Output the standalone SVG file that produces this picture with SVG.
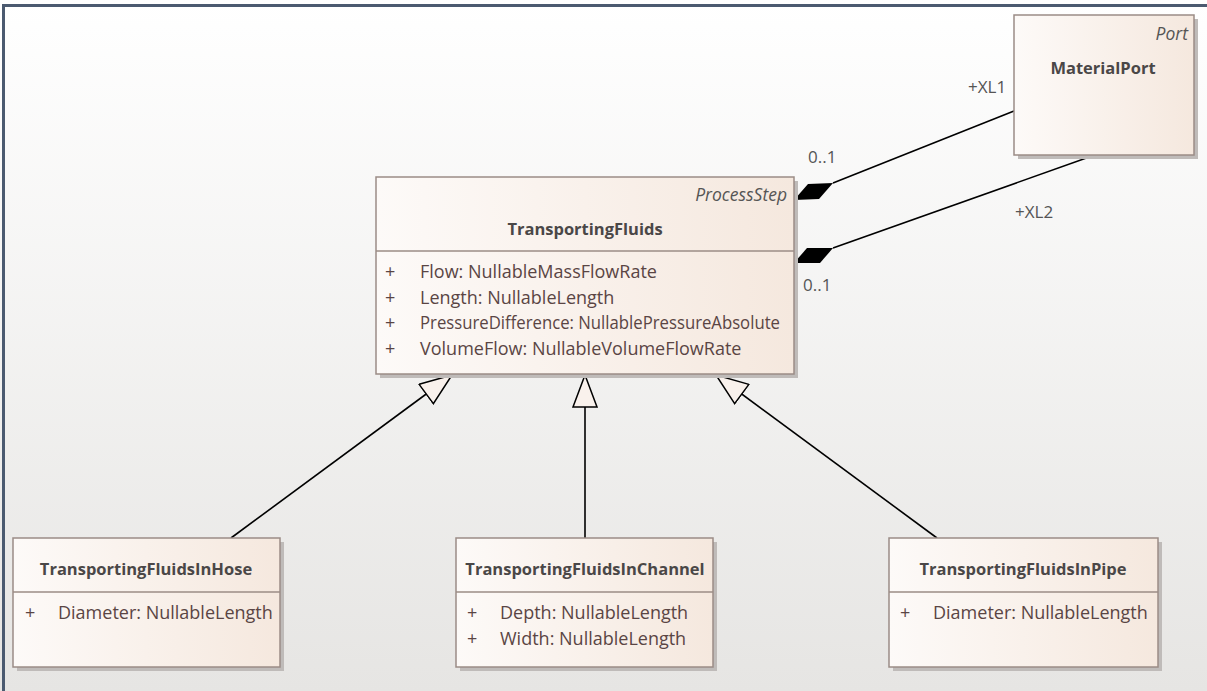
<svg xmlns="http://www.w3.org/2000/svg" width="1207" height="691" viewBox="0 0 1207 691">
<defs>
<linearGradient id="bg" x1="0" y1="0" x2="0" y2="1">
<stop offset="0" stop-color="#ffffff"/>
<stop offset="1" stop-color="#e6e5e3"/>
</linearGradient>
<linearGradient id="box" x1="0" y1="0" x2="1" y2="0">
<stop offset="0" stop-color="#fdfaf8"/>
<stop offset="1" stop-color="#f5e8de"/>
</linearGradient>
<marker id="gen" viewBox="0 0 34 26" refX="33" refY="13" markerWidth="34" markerHeight="26" markerUnits="userSpaceOnUse" orient="auto">
<path d="M1,1 L33,13 L1,25 Z" fill="#f9f1ec" stroke="#000" stroke-width="1.5"/>
</marker>
</defs>
<style>
.frame{fill:none;stroke:#4b5a70;stroke-width:3}
.node rect.b{fill:url(#box);stroke:#9b8c86;stroke-width:1.5}
.node rect.s{fill:#bfbbb9}
.sep{stroke:#9b8c86;stroke-width:1.5}
.title{font-family:"Open Sans","Noto Sans",sans-serif;font-weight:bold;font-size:16.5px;fill:#4a4747;text-anchor:middle}
.stereo{font-family:"Open Sans","Noto Sans",sans-serif;font-style:italic;font-size:17.5px;fill:#555;text-anchor:end}
.attr{font-family:"Open Sans","Noto Sans",sans-serif;font-size:18px;fill:#5a4544}
.lbl{font-family:"Open Sans","Noto Sans",sans-serif;font-size:17px;fill:#555}
.conn line{stroke:#000;stroke-width:1.6}
.dia{fill:#000}
</style>
<rect x="0" y="0" width="1207" height="691" fill="url(#bg)"/>
<path class="frame" d="M3.5,691 L3.5,5.5 L1207,5.5"/>

<g id="connectors" class="conn">
<line x1="1014" y1="111" x2="833" y2="183"/>
<polygon class="dia" points="794,200 808,184 833,183 819,199"/>
<line x1="1092" y1="156" x2="833" y2="248"/>
<polygon class="dia" points="794,263 807,248 833,248 820,263"/>
<line x1="231" y1="538" x2="452" y2="375" marker-end="url(#gen)"/>
<line x1="585" y1="538" x2="585" y2="375" marker-end="url(#gen)"/>
<line x1="937" y1="538" x2="716" y2="375" marker-end="url(#gen)"/>
<text class="lbl" x="968" y="93">+XL1</text>
<text class="lbl" x="808" y="163">0..1</text>
<text class="lbl" x="1015" y="218">+XL2</text>
<text class="lbl" x="803" y="291">0..1</text>
</g>

<g id="TransportingFluids" class="node">
<rect class="s" x="380" y="181" width="418" height="197"/>
<rect class="b" x="376" y="177" width="418" height="197"/>
<line class="sep" x1="376" y1="251" x2="794" y2="251"/>
<text class="stereo" x="787" y="201">ProcessStep</text>
<text class="title" x="585" y="235">TransportingFluids</text>
<text class="attr" x="385" y="278">+</text><text class="attr" x="420" y="278">Flow: NullableMassFlowRate</text>
<text class="attr" x="385" y="304">+</text><text class="attr" x="420" y="304">Length: NullableLength</text>
<text class="attr" x="385" y="329">+</text><text class="attr" x="420" y="329" textLength="360" lengthAdjust="spacingAndGlyphs">PressureDifference: NullablePressureAbsolute</text>
<text class="attr" x="385" y="355">+</text><text class="attr" x="420" y="355">VolumeFlow: NullableVolumeFlowRate</text>
</g>

<g id="MaterialPort" class="node">
<rect class="s" x="1018" y="19" width="180" height="140"/>
<rect class="b" x="1014" y="15" width="180" height="140"/>
<text class="stereo" x="1188" y="40">Port</text>
<text class="title" x="1103" y="74">MaterialPort</text>
</g>

<g id="TransportingFluidsInHose" class="node">
<rect class="s" x="17" y="542" width="267" height="129"/>
<rect class="b" x="13" y="538" width="267" height="129"/>
<line class="sep" x1="13" y1="592" x2="280" y2="592"/>
<text class="title" x="146" y="575">TransportingFluidsInHose</text>
<text class="attr" x="25" y="619">+</text><text class="attr" x="58" y="619">Diameter: NullableLength</text>
</g>

<g id="TransportingFluidsInChannel" class="node">
<rect class="s" x="460" y="542" width="257" height="129"/>
<rect class="b" x="456" y="538" width="257" height="129"/>
<line class="sep" x1="456" y1="592" x2="713" y2="592"/>
<text class="title" x="585" y="575">TransportingFluidsInChannel</text>
<text class="attr" x="467" y="619">+</text><text class="attr" x="500" y="619">Depth: NullableLength</text>
<text class="attr" x="467" y="645">+</text><text class="attr" x="500" y="645">Width: NullableLength</text>
</g>

<g id="TransportingFluidsInPipe" class="node">
<rect class="s" x="893" y="542" width="269" height="129"/>
<rect class="b" x="889" y="538" width="269" height="129"/>
<line class="sep" x1="889" y1="592" x2="1158" y2="592"/>
<text class="title" x="1023" y="575">TransportingFluidsInPipe</text>
<text class="attr" x="900" y="619">+</text><text class="attr" x="933" y="619">Diameter: NullableLength</text>
</g>
</svg>
